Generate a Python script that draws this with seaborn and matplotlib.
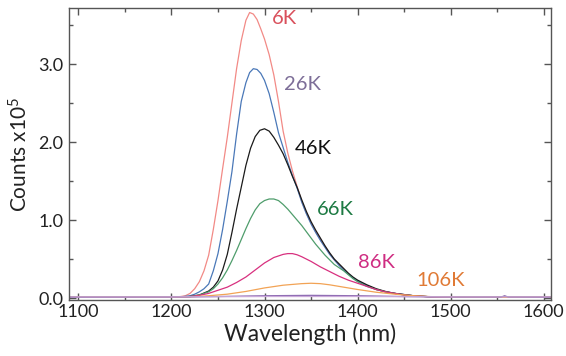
import matplotlib
matplotlib.use("Agg")
import matplotlib.pyplot as plt
from matplotlib.ticker import MultipleLocator, FormatStrFormatter
import seaborn as sns
import pandas as pd

# Spectra: (wavelength nm, counts x1e5)
pts_6k = [(1090, 0.01), (1150, 0.01), (1200, 0.01), (1205, 0.015), (1210, 0.02), (1215, 0.03),
          (1220, 0.06), (1225, 0.12), (1230, 0.21), (1235, 0.35), (1240, 0.55), (1245, 0.88),
          (1250, 1.25), (1255, 1.66), (1260, 2.06), (1265, 2.5), (1270, 2.94), (1275, 3.3),
          (1280, 3.56), (1284, 3.66), (1288, 3.64), (1292, 3.57), (1296, 3.45), (1300, 3.32),
          (1305, 3.12), (1310, 2.86), (1315, 2.52), (1320, 2.14), (1325, 1.86), (1330, 1.63),
          (1335, 1.43), (1340, 1.24), (1345, 1.09), (1350, 0.96), (1355, 0.85), (1360, 0.75),
          (1365, 0.66), (1370, 0.57), (1375, 0.49), (1380, 0.43), (1385, 0.37), (1390, 0.31),
          (1395, 0.26), (1400, 0.22), (1410, 0.16), (1420, 0.11), (1430, 0.08), (1440, 0.06),
          (1450, 0.045), (1460, 0.03), (1470, 0.02), (1480, 0.015), (1500, 0.01), (1550, 0.01),
          (1600, 0.01), (1607, 0.01)]
pts_26k = [(1090, 0.01), (1150, 0.01), (1200, 0.01), (1210, 0.015), (1220, 0.03), (1225, 0.05),
           (1230, 0.08), (1235, 0.12), (1240, 0.18), (1245, 0.35), (1250, 0.57), (1255, 0.88),
           (1260, 1.24), (1265, 1.62), (1270, 2.1), (1275, 2.52), (1280, 2.76), (1284, 2.89),
           (1288, 2.94), (1292, 2.93), (1296, 2.88), (1300, 2.79), (1305, 2.62), (1310, 2.38),
           (1315, 2.12), (1320, 1.93), (1325, 1.74), (1330, 1.57), (1335, 1.41), (1340, 1.23),
           (1345, 1.08), (1350, 0.95), (1355, 0.84), (1360, 0.74), (1365, 0.65), (1370, 0.56),
           (1375, 0.49), (1380, 0.42), (1385, 0.36), (1390, 0.31), (1395, 0.26), (1400, 0.22),
           (1410, 0.16), (1420, 0.11), (1430, 0.08), (1440, 0.06), (1450, 0.045), (1460, 0.03),
           (1480, 0.015), (1500, 0.01), (1600, 0.01), (1607, 0.01)]
pts_46k = [(1090, 0.01), (1200, 0.01), (1210, 0.012), (1220, 0.02), (1230, 0.04), (1240, 0.09),
           (1245, 0.14), (1250, 0.22), (1255, 0.36), (1260, 0.56), (1265, 0.84), (1270, 1.14),
           (1275, 1.42), (1280, 1.7), (1285, 1.92), (1290, 2.07), (1295, 2.15), (1300, 2.17),
           (1305, 2.14), (1310, 2.06), (1315, 1.96), (1320, 1.85), (1325, 1.71), (1330, 1.56),
           (1335, 1.42), (1340, 1.26), (1345, 1.11), (1350, 0.98), (1355, 0.87), (1360, 0.77),
           (1365, 0.67), (1370, 0.58), (1375, 0.5), (1380, 0.44), (1385, 0.38), (1390, 0.32),
           (1395, 0.27), (1400, 0.23), (1410, 0.17), (1420, 0.12), (1430, 0.085), (1440, 0.06),
           (1450, 0.045), (1460, 0.03), (1480, 0.015), (1500, 0.01), (1600, 0.01), (1607, 0.01)]
pts_66k = [(1090, 0.01), (1200, 0.01), (1210, 0.012), (1220, 0.02), (1230, 0.04), (1240, 0.08),
           (1245, 0.12), (1250, 0.18), (1255, 0.26), (1260, 0.36), (1265, 0.48), (1270, 0.61),
           (1275, 0.75), (1280, 0.89), (1285, 1.02), (1290, 1.13), (1295, 1.21), (1300, 1.25),
           (1305, 1.27), (1310, 1.27), (1315, 1.25), (1320, 1.2), (1325, 1.14), (1330, 1.07),
           (1335, 1.0), (1340, 0.93), (1345, 0.85), (1350, 0.77), (1355, 0.69), (1360, 0.62),
           (1365, 0.55), (1370, 0.49), (1375, 0.43), (1380, 0.39), (1385, 0.35), (1390, 0.3),
           (1395, 0.25), (1400, 0.21), (1410, 0.15), (1420, 0.11), (1430, 0.08), (1440, 0.06),
           (1450, 0.04), (1460, 0.03), (1480, 0.015), (1500, 0.01), (1600, 0.01), (1607, 0.01)]
pts_86k = [(1090, 0.01), (1200, 0.01), (1210, 0.012), (1220, 0.02), (1230, 0.035), (1240, 0.06),
           (1250, 0.1), (1260, 0.14), (1270, 0.2), (1280, 0.27), (1290, 0.36), (1300, 0.45),
           (1310, 0.52), (1320, 0.56), (1325, 0.57), (1330, 0.57), (1335, 0.555), (1340, 0.53),
           (1350, 0.47), (1360, 0.4), (1370, 0.34), (1380, 0.28), (1390, 0.23), (1400, 0.19),
           (1410, 0.15), (1420, 0.11), (1430, 0.08), (1440, 0.06), (1450, 0.04), (1460, 0.03),
           (1480, 0.015), (1500, 0.01), (1600, 0.01), (1607, 0.01)]
pts_106k = [(1090, 0.01), (1200, 0.01), (1220, 0.015), (1240, 0.03), (1260, 0.05), (1280, 0.085),
            (1300, 0.13), (1320, 0.165), (1340, 0.185), (1350, 0.19), (1360, 0.185), (1370, 0.17),
            (1380, 0.15), (1390, 0.13), (1400, 0.11), (1420, 0.075), (1440, 0.05), (1460, 0.03),
            (1480, 0.018), (1500, 0.012), (1550, 0.01), (1600, 0.01), (1607, 0.01)]
pts_126k = [(1090, 0.01), (1200, 0.012), (1250, 0.02), (1300, 0.03), (1350, 0.035), (1400, 0.03),
            (1450, 0.02), (1500, 0.012), (1554, 0.012), (1558, 0.03), (1562, 0.012), (1607, 0.01)]
pts_146k = [(1090, 0.015), (1200, 0.015), (1300, 0.02), (1400, 0.02), (1500, 0.015), (1607, 0.015)]

temps = ["6K", "26K", "46K", "66K", "86K", "106K", "126K", "146K"]
spectra = [pts_6k, pts_26k, pts_46k, pts_66k, pts_86k, pts_106k, pts_126k, pts_146k]
line_colors = ["#f28a86", "#4a78b8", "#1a1a1a", "#4f9d6c", "#d8307f", "#f2a355", "#8a68b0", "#c9a9d9"]

# label text, colour and where it sits (data coords)
label_colors = ["#d9505c", "#7d6e98", "#111111", "#1d7a43", "#cf2d82", "#e07a35"]
label_x = [1308, 1321, 1332, 1356, 1400, 1463]
label_y = [3.58, 2.74, 1.92, 1.13, 0.46, 0.22]

rows = []
for t, pts in zip(temps, spectra):
    for w, c in pts:
        rows.append({"temp": t, "wavelength": w, "counts": c})
df = pd.DataFrame(rows)

sns.set_style("ticks")
plt.rcParams['font.family'] = ['Lato', 'DejaVu Sans']
plt.rcParams['mathtext.default'] = 'regular'

fig, ax = plt.subplots(figsize=(5.66, 3.56), dpi=100)
fig.subplots_adjust(left=0.122, right=0.973, top=0.978, bottom=0.157)

sns.lineplot(data=df, x="wavelength", y="counts", hue="temp", hue_order=temps,
             palette=dict(zip(temps, line_colors)), estimator=None, linewidth=0.9,
             legend=False, ax=ax)

for t, c, x, y in zip(temps, label_colors, label_x, label_y):
    ax.text(x, y, t, color=c, fontsize=14.5, ha="left", va="center")

ax.set_xlim(1090, 1607.5)
ax.set_ylim(-0.026, 3.72)
ax.xaxis.set_major_locator(MultipleLocator(100))
ax.xaxis.set_minor_locator(MultipleLocator(50))
ax.yaxis.set_major_locator(MultipleLocator(1.0))
ax.yaxis.set_minor_locator(MultipleLocator(0.5))
ax.yaxis.set_major_formatter(FormatStrFormatter('%.1f'))
ax.tick_params(which="both", direction="in", top=True, right=True, color="#555555",
               labelsize=13, labelcolor="#222222")
ax.tick_params(axis="x", pad=3)
ax.tick_params(axis="y", pad=4)
ax.tick_params(which="major", length=5, width=1)
ax.tick_params(which="minor", length=3, width=1)
for s in ax.spines.values():
    s.set_color("#555555")
    s.set_linewidth(1.0)

ax.set_xlabel("Wavelength (nm)", fontsize=16.5, color="#222222", labelpad=2)
ax.set_ylabel("Counts x10$^5$", fontsize=15, color="#222222", labelpad=5)

fig.savefig("out.png", dpi=100)
